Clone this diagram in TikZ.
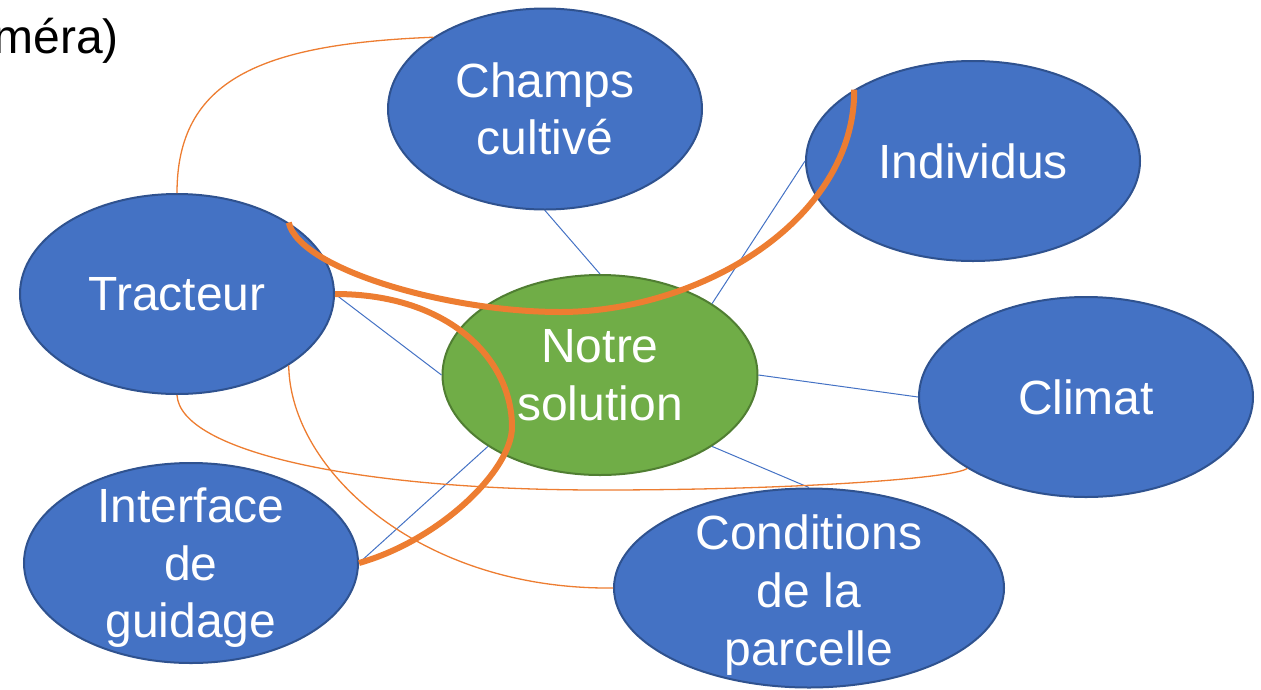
\documentclass[tikz,border=0pt]{standalone}
\usepackage{fontspec}
\setmainfont{Liberation Sans}
\usetikzlibrary{shapes.geometric}
\definecolor{bfill}{HTML}{4472C4}
\definecolor{bdraw}{HTML}{2F528F}
\definecolor{gfill}{HTML}{70AD47}
\definecolor{gdraw}{HTML}{507E32}
\definecolor{orng}{HTML}{ED7D31}
\begin{document}
\begin{tikzpicture}[x=1pt,y=-1pt,
  ell/.style={ellipse, draw=bdraw, fill=bfill, line width=2pt, inner sep=0pt},
  gell/.style={ellipse, draw=gdraw, fill=gfill, line width=2pt, inner sep=0pt},
  lbl/.style={text=white, font=\fontsize{48}{57.6}\selectfont, align=center, inner sep=0pt},
  blueline/.style={draw=bfill, line width=1pt},
  thinor/.style={draw=orng, line width=1.3pt},
  thickor/.style={draw=orng, line width=6pt},
]
\useasboundingbox (0,0) rectangle (1261,689);
\clip (0,0) rectangle (1261,689);

% partially visible title text
\node[font=\fontsize{48}{57.6}\selectfont, anchor=base east, inner sep=0pt] (cam) at (119,53) {méra)};

% ellipses
\node[ell, minimum width=314pt, minimum height=201pt] (ch) at (545,109) {};
\node[ell, minimum width=334pt, minimum height=200pt] (in) at (973,161) {};
\node[ell, minimum width=314pt, minimum height=200pt] (tr) at (177,294) {};
\node[gell, minimum width=315pt, minimum height=200pt] (ns) at (600,375) {};
\node[ell, minimum width=334pt, minimum height=200pt] (cl) at (1086,397) {};
\node[ell, minimum width=334pt, minimum height=200pt] (ig) at (191,563) {};
\node[ell, minimum width=390pt, minimum height=199pt] (co) at (809,588) {};

% labels
\node[lbl] (chL) at (ch) {Champs\\cultivé};
\node[lbl] (inL) at (in) {Individus};
\node[lbl] (trL) at (tr) {Tracteur};
\node[lbl] (nsL) at (ns) {Notre\\solution};
\node[lbl] (clL) at (cl) {Climat};
\node[lbl, yshift=-5pt] (igL) at (ig) {Interface\\de\\guidage};
\node[lbl, yshift=-7pt] (coL) at (co) {Conditions\\de la\\parcelle};

% blue connectors
\draw[blueline] (ch.south) -- (ns.north);
\draw[blueline] (in.west) -- (ns.north east);
\draw[blueline] (tr.east) -- (ns.west);
\draw[blueline] (cl.west) -- (ns.east);
\draw[blueline] (co.north) -- (ns.south east);
\draw[blueline] (ig.east) -- (ns.south west);

% thin orange connectors
\draw[thinor] (tr.north) .. controls (177,80) and (260,44) .. (ch.north west);
\draw[thinor] (tr.south) .. controls (180,450) and (350,490) .. (600,490)
  .. controls (800,490) and (955,478) .. (cl.south west);
\draw[thinor] (tr.south east) .. controls (290,470) and (420,590) .. (co.west);

% thick orange connectors
\draw[thickor] (tr.north east) .. controls (300,270) and (450,312) .. (560,312)
  .. controls (700,312) and (855,220) .. (in.north west);
\draw[thickor] (tr.east) .. controls (450,294) and (512,360) .. (512,427)
  .. controls (512,470) and (440,540) .. (ig.east);
\end{tikzpicture}
\end{document}
